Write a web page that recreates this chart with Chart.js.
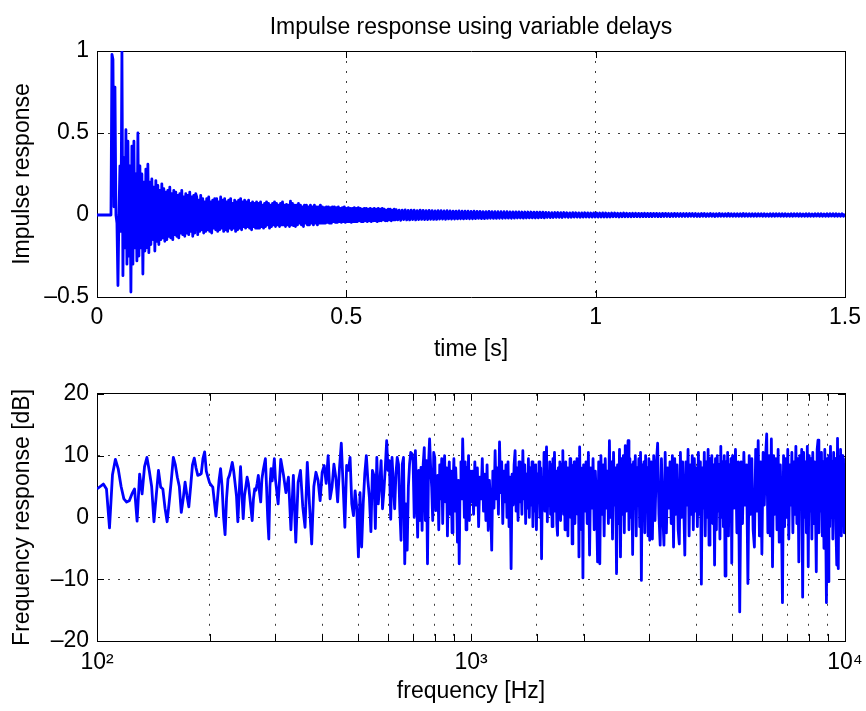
<!DOCTYPE html>
<html>
<head>
<meta charset="utf-8">
<script src="https://cdn.jsdelivr.net/npm/chart.js@4.4.1/dist/chart.umd.min.js"></script>
<style>
  html, body { margin: 0; padding: 0; background: #fff; }
  #wrap { position: relative; width: 866px; height: 711px; }
  canvas { position: absolute; left: 0; }
</style>
</head>
<body>
<div id="wrap">
  <canvas id="irChart" width="866" height="372" style="top:0px"></canvas>
  <canvas id="frChart" width="866" height="339" style="top:372px"></canvas>
</div>
<script>
// --------------------
// Data: impulse response (time grid = start + i * step, in seconds)
// --------------------
const IR_EARLY_START = 0;
const IR_EARLY_STEP = 0.002;
const irEarly = [
  0, 0, 0, 0, 0, 0, 0, 0, 0, 0, 0, 0, 0, 0, 0,
  0.98, 0.95, 0.05, 0.78, 0.0,
  -0.05, -0.43, 0.0, 0.3, -0.1,
  1.0, -0.37, 0.35, -0.2, 0.52,
  -0.3, 0.45, -0.25, 0.3, -0.47,
  0.42, -0.3, 0.45, -0.2, 0.25,
  -0.28, 0.5, -0.25, 0.3, -0.2,
  0.25, -0.36, 0.2, -0.22, 0.28,
  -0.2, 0.31, -0.23, 0.2, -0.18,
  0.22, -0.15, 0.17, -0.22, 0.21,
  -0.16, 0.18, -0.18, 0.15, -0.15,
  0.19, -0.14, 0.16, -0.16, 0.14,
  -0.15, 0.15, -0.13, 0.17, -0.14,
  0.13, -0.15, 0.15, -0.12, 0.14,
  -0.13, 0.12, -0.14, 0.13, -0.11,
  0.15, -0.12, 0.11, -0.13, 0.13,
  -0.11, 0.12, -0.12, 0.14, -0.1,
  0.11, -0.13, 0.12, -0.11, 0.13
];

const IR_MID_START = 0.2;
const IR_MID_STEP = 0.002;
const irMid = [
  0.11, -0.12, 0.09, -0.1, 0.12, -0.09, 0.1, -0.11, 0.08, -0.1, 0.1, -0.09, 0.11, -0.1, 0.08, -0.11, 0.09, -0.08, 0.1, -0.09,
  0.1, -0.1, 0.08, -0.09, 0.11, -0.08, 0.09, -0.1, 0.1, -0.09, 0.08, -0.1, 0.09, -0.08, 0.1, -0.09, 0.07, -0.08, 0.09, -0.1,
  0.08, -0.09, 0.09, -0.08, 0.1, -0.09, 0.08, -0.07, 0.09, -0.08, 0.08, -0.07, 0.09, -0.08, 0.07, -0.09, 0.08, -0.07, 0.07, -0.08,
  0.08, -0.08, 0.07, -0.08, 0.08, -0.07, 0.06, -0.08, 0.07, -0.07, 0.08, -0.06, 0.07, -0.08, 0.06, -0.07, 0.07, -0.06, 0.08, -0.07,
  0.07, -0.06, 0.06, -0.07, 0.07, -0.06, 0.08, -0.06, 0.06, -0.07, 0.065, -0.06, 0.06, -0.07, 0.085, -0.06, 0.07, -0.065, 0.06, -0.07,
  0.06, -0.06, 0.07, -0.05, 0.06, -0.06, 0.05, -0.07, 0.06, -0.05, 0.06, -0.06, 0.05, -0.06, 0.06, -0.05, 0.05, -0.06, 0.06, -0.05,
  0.05, -0.06, 0.05, -0.05, 0.06, -0.05, 0.05, -0.05, 0.045, -0.05, 0.05, -0.045, 0.05, -0.05, 0.045, -0.05, 0.05, -0.04, 0.05, -0.045,
  0.045, -0.045, 0.05, -0.04, 0.04, -0.045, 0.045, -0.04, 0.05, -0.045, 0.04, -0.04, 0.045, -0.04, 0.04, -0.045, 0.04, -0.04, 0.045, -0.04,
  0.04, -0.04, 0.045, -0.035, 0.04, -0.04, 0.035, -0.04, 0.04, -0.035, 0.04, -0.04, 0.035, -0.035, 0.04, -0.04, 0.035, -0.035, 0.04, -0.035,
  0.035, -0.04, 0.04, -0.035, 0.035, -0.035, 0.04, -0.03, 0.035, -0.035, 0.03, -0.035, 0.035, -0.03, 0.035, -0.035, 0.03, -0.03, 0.035, -0.03
];

const IR_LATE_START = 0.6;
const IR_LATE_STEP = 0.003;
const irLate = [
  0.032, -0.03, 0.03, -0.032, 0.03, -0.028, 0.031, -0.03, 0.028, -0.03,
  0.03, -0.028, 0.029, -0.03, 0.027, -0.028, 0.03, -0.027, 0.028, -0.028,
  0.027, -0.028, 0.028, -0.026, 0.027, -0.027, 0.025, -0.027, 0.027, -0.025,
  0.026, -0.025, 0.025, -0.026, 0.026, -0.024, 0.025, -0.025, 0.024, -0.025,
  0.024, -0.024, 0.025, -0.023, 0.023, -0.024, 0.024, -0.022, 0.023, -0.023,
  0.022, -0.023, 0.023, -0.022, 0.022, -0.021, 0.022, -0.022, 0.021, -0.022,
  0.021, -0.021, 0.022, -0.02, 0.021, -0.021, 0.02, -0.021, 0.02, -0.02,
  0.02, -0.02, 0.02, -0.019, 0.02, -0.019, 0.019, -0.02, 0.019, -0.019,
  0.019, -0.018, 0.019, -0.018, 0.018, -0.019, 0.018, -0.018, 0.018, -0.017,
  0.018, -0.017, 0.017, -0.018, 0.017, -0.017, 0.017, -0.016, 0.017, -0.017
];

const IR_TAIL_START = 0.9;
const IR_TAIL_STEP = 0.003;
const irTail = [
  0.016, -0.015, 0.015, -0.016, 0.014, -0.015, 0.015, -0.014, 0.015, -0.014, 0.014, -0.015, 0.015, -0.013, 0.014, -0.014, 0.013, -0.014, 0.014, -0.013,
  0.014, -0.013, 0.013, -0.014, 0.013, -0.013, 0.014, -0.012, 0.013, -0.013, 0.012, -0.013, 0.013, -0.012, 0.012, -0.013, 0.012, -0.012, 0.013, -0.012,
  0.012, -0.012, 0.011, -0.012, 0.012, -0.011, 0.012, -0.011, 0.011, -0.012, 0.011, -0.011, 0.012, -0.011, 0.011, -0.011, 0.01, -0.011, 0.011, -0.01,
  0.011, -0.01, 0.01, -0.011, 0.01, -0.01, 0.011, -0.01, 0.01, -0.01, 0.01, -0.01, 0.01, -0.009, 0.01, -0.01, 0.009, -0.01, 0.01, -0.009,
  0.01, -0.009, 0.009, -0.01, 0.009, -0.009, 0.01, -0.009, 0.009, -0.009, 0.009, -0.009, 0.009, -0.009, 0.009, -0.009, 0.009, -0.008, 0.009, -0.009,
  0.009, -0.009, 0.008, -0.009, 0.009, -0.008, 0.009, -0.009, 0.008, -0.008, 0.009, -0.008, 0.008, -0.009, 0.008, -0.008, 0.009, -0.008, 0.008, -0.008,
  0.008, -0.008, 0.009, -0.008, 0.008, -0.008, 0.008, -0.008, 0.008, -0.008, 0.008, -0.008, 0.009, -0.008, 0.008, -0.008, 0.008, -0.008, 0.008, -0.008,
  0.008, -0.008, 0.008, -0.007, 0.008, -0.008, 0.008, -0.008, 0.007, -0.008, 0.008, -0.008, 0.008, -0.008, 0.008, -0.007, 0.008, -0.008, 0.008, -0.008,
  0.008, -0.008, 0.007, -0.008, 0.008, -0.008, 0.008, -0.007, 0.008, -0.008, 0.008, -0.008, 0.007, -0.008, 0.008, -0.008, 0.008, -0.008, 0.007, -0.008,
  0.008, -0.007, 0.008, -0.008, 0.008, -0.008, 0.007, -0.008, 0.008, -0.008, 0.008, -0.007, 0.008, -0.008, 0.008, -0.008, 0.007, -0.008, 0.008, -0.008,
  0.008
];

// --------------------
// Data: frequency response in dB (frequency grid = start + i * step, in Hz)
// --------------------
const FR_A_START = 100;
const FR_A_STEP = 2;
const frA = [
  4.6, 5.0, 5.4, 4.6, -1.7, 6.9, 9.4, 7.8, 5.0, 3.0,
  2.5, 2.7, 3.8, 4.6, -0.6, 7.0, 3.8, 8.2, 9.7, 7.5,
  5.0, -0.7, 3.5, 7.6, 4.9, 4.6, 1.5, -0.7, 2.5, 6.0,
  9.7, 8.5, 6.5, 5.0, 0.8, 3.0, 5.7, 3.5, 1.7, 5.0,
  8.5, 9.6, 8.0, 6.8, 6.9, 7.1, 9.5, 10.6, 7.5, 6.5,
  5.6, 5.2, 4.9, 2.5, 0.2, 3.0, 6.0, 7.9, 5.0, 0.0,
  -2.8, 3.0, 6.2, 6.8, 7.8, 8.9, 7.5, 5.5, 3.5, -0.7,
  4.0, 8.2, 4.0, -0.2, 3.5, 5.0, 6.5, 5.5, 3.5, 1.5,
  -0.5, 3.0, 4.6, 4.4, 5.5, 6.8, 4.0, 2.5, 6.2, 7.5,
  8.5, 9.5, 5.0, 0.0, -3.5, 5.0, 7.9, 5.9, 7.5, 9.5,
  6.2
];

const FR_B_START = 305;
const FR_B_STEP = 5;
const frB = [
  2.2, 9.4, 7.0, 4.0, 6.5, -2.0, 6.8, -4.0, 5.7, 7.6,
  1.7, -1.6, 8.9, 2.0, -4.3, 5.0, 7.3, 6.0, 2.7, 7.3,
  8.4, 5.5, 10.0, 3.0, 4.9, 8.6, 6.5, 2.5, 8.0, 12.0,
  5.2, -1.6, 8.4, 7.6, 9.7, 2.2, 0.3, 4.3, 1.4, -6.4,
  4.0, -4.8, 2.2, 7.1, 10.0, 6.0, 3.2, -2.3, 7.6, 6.8,
  -1.8, 9.7, 2.2, 5.4, 9.2, 1.4, 4.3, 8.1, 12.4, 7.6,
  9.2, -0.3, 9.7, 5.4, 1.4, 7.1, 9.7, 8.6, 1.4, -3.7,
  8.6, 9.7, -7.5, 2.2, -5.3, 4.9, 8.6, 10.5, 10.3, 9.2,
  0.0, 10.8, 4.9, -3.2, 7.6, -0.5, 8.1, -2.1, 8.6, 11.3,
  -0.5, 9.2, -7.5, 8.6, 12.7, 8.1, 4.9, -0.5, 10.5, 9.7,
  1.1, 1.7, 6.8, -2.0, 8.5, 3.0, 9.5, -1.0, 7.0, 10.0,
  2.5, 8.0, -3.0, 6.5, 9.0, 0.5, 7.5, -2.5, 5.0, 9.5,
  1.0, 8.0, 4.0, -4.0, 6.0, -7.5, 5.5, 9.0, 3.0, 12.7,
  7.0, 0.0, 9.0, -2.0, 8.0, 4.0, 10.0, -0.5, 7.5, 2.5
];

const FR_C_START = 1008;
const FR_C_STEP = 8;
const frC = [
  7.5, 0.5, 9.0, 2.0, 8.0, -1.5, 6.5, 3.0, 9.5, 1.0,
  7.0, -0.5, 8.5, -2.1, 6.0, 2.0, -5.3, 7.5, 1.5, 10.8,
  3.0, 8.0, 0.5, 12.2, 4.0, 9.0, -1.0, 7.5, 2.5, 8.5,
  0.0, 9.0, -1.5, 6.5, -8.3, 7.0, 2.0, 8.5, 10.8, 1.0,
  8.0, -0.5, 9.0, 2.5, 7.5, 0.5, 10.8, 3.0, 8.5, -1.0,
  7.0, 1.5, 9.5, 0.0, 8.0, 2.0, 9.0, -1.5, 7.5, 1.0,
  8.5, -2.0, 7.0, 2.5, 9.0, 0.0, 8.0, -6.7, 6.5, 3.0,
  10.5, 1.0, 8.0, 11.4, -0.7, 7.5, 2.0, 9.0, 0.5, 8.5,
  -1.5, 9.5, 3.0, 10.5, 1.0, 7.5, -1.0, -2.9, 8.0, 2.0,
  9.0, -0.5, 8.5, 2.5, 10.8, 0.5, 7.5, -2.0, 9.0, 1.5,
  8.0, -3.0, 7.0, 2.0, 9.5, 0.0, 8.5, -4.3, 7.5, 1.5,
  9.0, -1.0, 8.0, 2.5, 9.5, 0.5, 8.5, -6.4, 11.4, 1.0,
  8.0, -2.0, 7.5, -9.8, 8.5
];

const FR_D_START = 2015;
const FR_D_STEP = 15;
const frD = [
  1.0, 9.0, -1.0, 10.5, -6.1, 8.0, 1.5, 9.5, -2.0, 7.5,
  2.5, -7.2, 9.0, -7.5, 10.0, 0.5, 8.5, -3.0, 9.5, 1.5,
  7.5, -1.0, 12.4, 0.0, 9.0, -3.5, 10.5, 2.0, 8.0, -9.1,
  8.5, -1.0, 11.0, -6.4, 9.5, 0.5, 10.0, -2.5, 11.6, 1.0,
  8.0, 12.4, -2.0, 9.5, 0.0, 8.5, -6.0, 9.0, 1.5, 10.0,
  -3.0, 8.0, 2.0, 9.5, -1.5, 10.5, -10.2, 8.5, 0.5, 9.0,
  -2.5, 10.0, 1.0, 8.0, -3.0, 9.5, -3.7
];

const FR_E_START = 3030;
const FR_E_STEP = 25;
const frE = [
  9.0, -3.5, 10.0, -0.5, 8.5, 12.0, 0.5, -4.5, 9.5, 1.0,
  -4.5, 10.5, -2.5, 8.0, 1.5, 9.0, -1.0, 10.0, -4.8, 9.5,
  0.5, 8.5, -2.0, -4.3, 10.5, 0.0, 9.0, 2.0, -6.1, 9.0,
  2.0, 11.0, -3.0, 8.5, 0.5, 10.0, -2.0, 9.5, 1.0, 8.0,
  -1.5, 10.5, 0.5, 9.0, -10.8, 8.0, 1.5, 10.5, -3.0, 9.0,
  0.0, 11.0, -4.5, 9.5, 2.0, 10.0, -1.0, 8.5, -7.7, 9.5,
  -2.0, 10.0, 1.0, 8.5, -3.5, 11.5, 0.0, 9.0, -1.5, 10.0,
  -9.5, 9.0, 0.0, 10.5, -3.0, 8.5, 1.5, 9.5, -7.4, 10.0
];

const FR_F_START = 5050;
const FR_F_STEP = 45;
const frF = [
  1.5, 11.0, -2.5, 9.0, -15.3, 9.0, -1.0, 10.5, 2.0, 8.5,
  -10.7, 10.0, 0.5, 9.5, -2.0, -4.8, 11.0, 1.0, 12.4, -3.0,
  9.0, -5.9, 10.5, 2.0, 9.5, 13.5, -2.5, 10.0, -3.0, 12.7,
  -8.0, 10.0, 0.5, 9.5, -2.0, 11.0, -4.0, 8.5, 1.0, -13.8,
  10.0, -1.5, 9.5, 0.0, 11.0, -3.5, 8.5, 2.0, 10.5, -2.5,
  9.0, 0.5, 11.5, -1.0, 9.5, -7.2, 10.0, 1.5, 11.0, -12.9,
  10.5, 0.0, 9.0, -2.5, 11.5, -8.0, 10.0, 1.0, 9.5, -3.5,
  10.5, -1.0, 9.0, 2.0, -8.8, 11.0, 12.5, -2.5, 9.5, 1.0,
  10.5, -3.0, 9.0, -5.0, 11.0, 0.5, -13.8, 9.5, -10.4, 10.0,
  -1.5, 11.5, 0.0, 9.0, -3.5, 10.5, 1.5, 9.5, -2.0, -7.7,
  12.8, -8.3, 9.5, -1.0, 11.0, -3.0, 10.0, 2.0, 9.5, -2.5,
  4.0
];

// Tick labels
const TIME_TICKS = [0, 0.5, 1, 1.5];
const FREQ_DECADES = [100, 1000, 10000];
const FREQ_DECADE_LABELS = ['10\u00B2', '10\u00B3', '10\u2074'];

// --------------------
// Styling helpers
// --------------------
const LINE_BLUE = '#0000ff';
const GRID_DOT = '#3c3c3c';
const FONT = { family: '"Liberation Sans", Arial, Helvetica, sans-serif', size: 23 };

function sampled(start, step, values) {
  return values.map((v, i) => ({ x: start + i * step, y: v }));
}

function minusLabel(v) {
  return v < 0 ? '\u2013' + Math.abs(v) : String(v);
}

// dotted grid inside the box, edges left to the axis lines
function dottedGrid(min, max) {
  return {
    drawTicks: false,
    lineWidth: 1,
    color: (ctx) => {
      if (!ctx.tick) return GRID_DOT;
      const v = ctx.tick.value;
      return (v <= min * 1.0001 || v >= max * 0.9999) ? 'rgba(0,0,0,0)' : GRID_DOT;
    }
  };
}

const dottedBorder = { display: true, color: '#000', width: 1, dash: [2, 8] };

// keep the plot box at a fixed place, labels may hang over the edge
function fixHeight(h) {
  return (s) => { s.height = h; s.paddingLeft = 0; s.paddingRight = 0; };
}

// MATLAB-style ticks pointing into the plot box on all four sides
const insideTicks = {
  id: 'insideTicks',
  beforeDatasetsDraw(chart) {
    const { ctx, chartArea: a } = chart;
    const len = 7;
    const sx = chart.scales.x;
    const sy = chart.scales.y;
    ctx.save();
    ctx.strokeStyle = '#000';
    ctx.lineWidth = 1;
    ctx.beginPath();
    sx.ticks.forEach(t => {
      const px = Math.round(sx.getPixelForValue(t.value)) + 0.5;
      ctx.moveTo(px, a.bottom); ctx.lineTo(px, a.bottom - len);
      ctx.moveTo(px, a.top); ctx.lineTo(px, a.top + len);
    });
    sy.ticks.forEach(t => {
      const py = Math.round(sy.getPixelForValue(t.value)) + 0.5;
      ctx.moveTo(a.left, py); ctx.lineTo(a.left + len, py);
      ctx.moveTo(a.right, py); ctx.lineTo(a.right - len, py);
    });
    ctx.stroke();
    ctx.restore();
  }
};

function boxAxis(position, opts) {
  return Object.assign({
    position: position,
    ticks: { display: false },
    grid: { display: false },
    border: { display: true, color: '#000', width: 1 }
  }, opts);
}

function lineDataset(points) {
  return {
    data: points,
    borderColor: LINE_BLUE,
    borderWidth: 2.8,
    borderJoinStyle: 'round',
    pointRadius: 0,
    tension: 0,
    fill: false
  };
}

// --------------------
// Impulse response chart
// --------------------
function createImpulseChart() {
  const points = [
    ...sampled(IR_EARLY_START, IR_EARLY_STEP, irEarly),
    ...sampled(IR_MID_START, IR_MID_STEP, irMid),
    ...sampled(IR_LATE_START, IR_LATE_STEP, irLate),
    ...sampled(IR_TAIL_START, IR_TAIL_STEP, irTail)
  ];
  return new Chart(document.getElementById('irChart'), {
    type: 'line',
    data: { datasets: [lineDataset(points)] },
    options: {
      responsive: false,
      animation: false,
      devicePixelRatio: 1,
      layout: { padding: { left: 0, right: 21, top: 0, bottom: 0 } },
      plugins: { legend: { display: false }, tooltip: { enabled: false } },
      scales: {
        x: {
          type: 'linear', position: 'bottom', min: 0, max: 1.5,
          afterBuildTicks: (s) => { s.ticks = TIME_TICKS.map(v => ({ value: v })); },
          ticks: { font: FONT, color: '#000', padding: 7, maxRotation: 0, callback: (v) => String(v) },
          grid: dottedGrid(0, 1.5),
          border: dottedBorder,
          title: { display: true, text: 'time [s]', font: FONT, color: '#000', padding: { top: 0, bottom: 9 } },
          afterFit: fixHeight(75)
        },
        xTop: boxAxis('top', {
          type: 'linear', min: 0, max: 1.5,
          title: { display: true, text: 'Impulse response using variable delays', font: FONT, color: '#000', padding: { top: 14, bottom: 0 } },
          afterFit: fixHeight(51)
        }),
        y: {
          type: 'linear', position: 'left', min: -0.5, max: 1,
          ticks: { stepSize: 0.5, font: FONT, color: '#000', padding: 8, callback: minusLabel },
          grid: dottedGrid(-0.5, 1),
          border: dottedBorder,
          title: { display: true, text: 'Impulse response', font: FONT, color: '#000', padding: { top: 9, bottom: 0 } },
          afterFit: (s) => { s.width = 97; }
        },
        yRight: boxAxis('right', {
          type: 'linear', min: -0.5, max: 1,
          afterFit: (s) => { s.width = 0; }
        })
      }
    },
    plugins: [insideTicks]
  });
}

// --------------------
// Frequency response chart
// --------------------
function createFrequencyChart() {
  const points = [
    ...sampled(FR_A_START, FR_A_STEP, frA),
    ...sampled(FR_B_START, FR_B_STEP, frB),
    ...sampled(FR_C_START, FR_C_STEP, frC),
    ...sampled(FR_D_START, FR_D_STEP, frD),
    ...sampled(FR_E_START, FR_E_STEP, frE),
    ...sampled(FR_F_START, FR_F_STEP, frF)
  ];
  return new Chart(document.getElementById('frChart'), {
    type: 'line',
    data: { datasets: [lineDataset(points)] },
    options: {
      responsive: false,
      animation: false,
      devicePixelRatio: 1,
      layout: { padding: { left: 0, right: 21, top: 0, bottom: 0 } },
      plugins: { legend: { display: false }, tooltip: { enabled: false } },
      scales: {
        x: {
          type: 'logarithmic', position: 'bottom', min: 100, max: 10000,
          ticks: {
            font: FONT, color: '#000', padding: 8, maxRotation: 0, autoSkip: false,
            callback: (v) => {
              const k = FREQ_DECADES.indexOf(Number(v));
              return k >= 0 ? FREQ_DECADE_LABELS[k] : '';
            }
          },
          grid: dottedGrid(100, 10000),
          border: dottedBorder,
          title: { display: true, text: 'frequency [Hz]', font: FONT, color: '#000', padding: { top: 0, bottom: 6 } },
          afterFit: fixHeight(70)
        },
        xTop: boxAxis('top', {
          type: 'logarithmic', min: 100, max: 10000,
          afterFit: fixHeight(21)
        }),
        y: {
          type: 'linear', position: 'left', min: -20, max: 20,
          ticks: { stepSize: 10, font: FONT, color: '#000', padding: 8, callback: minusLabel },
          grid: dottedGrid(-20, 20),
          border: dottedBorder,
          title: { display: true, text: 'Frequency response [dB]', font: FONT, color: '#000', padding: { top: 9, bottom: 0 } },
          afterFit: (s) => { s.width = 97; }
        },
        yRight: boxAxis('right', {
          type: 'linear', min: -20, max: 20,
          afterFit: (s) => { s.width = 0; }
        })
      }
    },
    plugins: [insideTicks]
  });
}

document.addEventListener('DOMContentLoaded', () => {
  createImpulseChart();
  createFrequencyChart();
});
</script>
</body>
</html>
